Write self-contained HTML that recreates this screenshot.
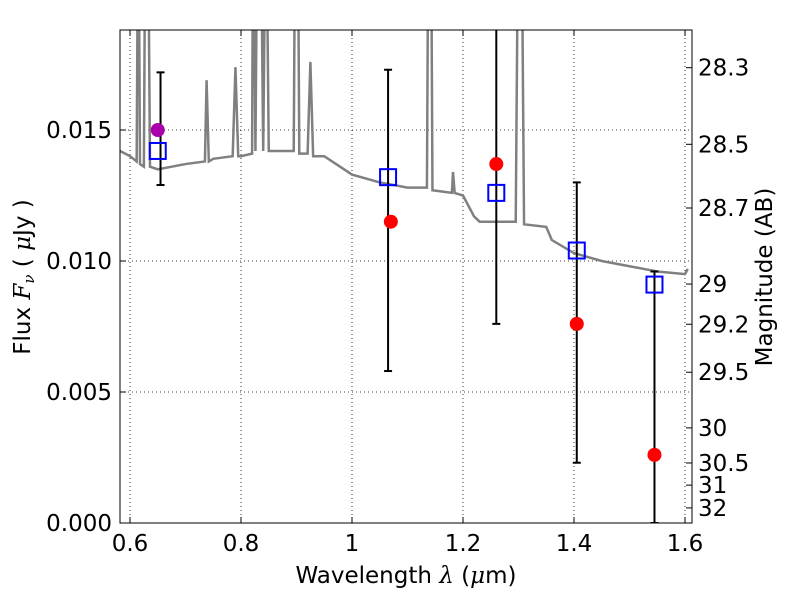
<!DOCTYPE html>
<html><head><meta charset="utf-8"><style>
body{margin:0;background:#fff}
svg{font-family:"DejaVu Sans","Liberation Sans",sans-serif}
</style></head><body>
<svg id="chart" width="800" height="600"></svg>
<script>
const sedWave=[0.582,0.60,0.612,0.615,0.618,0.625,0.628,0.632,0.636,0.65,0.70,0.735,0.738,0.742,0.75,0.785,0.79,0.795,0.80,0.82,0.822,0.826,0.83,0.835,0.84,0.845,0.85,0.895,0.898,0.902,0.905,0.92,0.925,0.93,0.95,1.0,1.05,1.10,1.135,1.138,1.142,1.145,1.18,1.182,1.185,1.2,1.22,1.23,1.28,1.295,1.30,1.305,1.31,1.35,1.36,1.40,1.45,1.50,1.55,1.60,1.605];
const sedFlux=[0.0142,0.0140,0.0138,0.025,0.0137,0.0136,0.025,0.025,0.0136,0.0135,0.0137,0.0138,0.0169,0.0138,0.0139,0.0140,0.0174,0.0140,0.0140,0.0141,0.025,0.0142,0.025,0.025,0.0142,0.025,0.0142,0.0142,0.025,0.025,0.0141,0.0141,0.0176,0.0140,0.0140,0.0133,0.0130,0.0128,0.0128,0.025,0.025,0.0127,0.0126,0.0134,0.0126,0.0125,0.0117,0.0115,0.0115,0.0115,0.025,0.025,0.0114,0.0113,0.0108,0.0103,0.0100,0.0098,0.0096,0.0095,0.0097];
const obsWave=[1.07,1.26,1.405,1.545];
const obsFlux=[0.0115,0.0137,0.0076,0.0026];
const purpleWave=[0.65];const purpleFlux=[0.0150];
const errWave=[0.655,1.065,1.26,1.405,1.545];
const errLow=[0.0129,0.0058,0.0076,0.0023,0.0];
const errHigh=[0.0172,0.0173,0.025,0.0130,0.0096];
const modWave=[0.65,1.065,1.26,1.405,1.545];
const modFlux=[0.0142,0.0132,0.0126,0.0104,0.0091];
const xTicks=[0.6,0.8,1.0,1.2,1.4,1.6];
const xLabels=["0.6","0.8","1","1.2","1.4","1.6"];
const yTicks=[0,0.005,0.010,0.015];
const yLabels=["0.000","0.005","0.010","0.015"];
const magTicks=[28.3,28.5,28.7,29,29.2,29.5,30,30.5,31,32];
const magLabels=["28.3","28.5","28.7","29","29.2","29.5","30","30.5","31","32"];

const L=120,R=692,T=30,B=523;
const xs=w=>130+(w-0.6)*555;
const ys=f=>523-f*26200;
const NS="http://www.w3.org/2000/svg";
const svg=document.getElementById('chart');
function mk(tag,attrs,parent){const e=document.createElementNS(NS,tag);for(const k in attrs)e.setAttribute(k,attrs[k]);(parent||svg).appendChild(e);return e;}
const defs=mk('defs',{});const cp=mk('clipPath',{id:'clip'},defs);mk('rect',{x:L,y:T,width:R-L,height:B-T},cp);
const g=mk('g',{'clip-path':'url(#clip)'});
xTicks.forEach(t=>{const l=mk('line',{x1:xs(t),x2:xs(t),y1:T,y2:B,stroke:'#000','stroke-dasharray':'1,3','stroke-width':0.8},g);
});
yTicks.forEach(t=>{const l=mk('line',{x1:L,x2:R,y1:ys(t),y2:ys(t),stroke:'#000','stroke-dasharray':'1,3','stroke-width':0.8},g);
});
const p=mk('polyline',{points:sedWave.map((w,i)=>xs(w)+','+ys(sedFlux[i])).join(' '),fill:'none',stroke:'#808080','stroke-width':2.5},g);

errWave.forEach((w,i)=>{const x=xs(w),y1=ys(errLow[i]),y2=ys(errHigh[i]);
const e=mk('g',{},g);
mk('line',{x1:x,x2:x,y1:y1,y2:y2,stroke:'#000','stroke-width':2},e);
mk('line',{x1:x-4,x2:x+4,y1:y1,y2:y1,stroke:'#000','stroke-width':2},e);
mk('line',{x1:x-4,x2:x+4,y1:y2,y2:y2,stroke:'#000','stroke-width':2},e);});
obsWave.forEach((w,i)=>{const c=mk('circle',{cx:xs(w),cy:ys(obsFlux[i]),r:7,fill:'#f00'},g);
});
purpleWave.forEach((w,i)=>{const c=mk('circle',{cx:xs(w),cy:ys(purpleFlux[i]),r:7,fill:'#a0a'},g);
});
modWave.forEach((w,i)=>{const r=mk('rect',{x:xs(w)-8,y:ys(modFlux[i])-8,width:16,height:16,fill:'none',stroke:'#00f','stroke-width':2},g);
});
const fr=mk('rect',{x:L,y:T,width:R-L,height:B-T,fill:'none',stroke:'#000','stroke-width':1});

xTicks.forEach((t,i)=>{const x=xs(t);mk('line',{x1:x,x2:x,y1:B,y2:B-6,stroke:'#000'});mk('line',{x1:x,x2:x,y1:T,y2:T+6,stroke:'#000'});
const tx=mk('text',{x:x,y:B+28,'font-size':23,'text-anchor':'middle'});tx.textContent=xLabels[i];
});
yTicks.forEach((t,i)=>{const y=ys(t);mk('line',{x1:L,x2:L+6,y1:y,y2:y,stroke:'#000'});
const tx=mk('text',{x:L-8,y:y+8,'font-size':23,'text-anchor':'end'});tx.textContent=yLabels[i];
});
magTicks.forEach((m,i)=>{const f=Math.pow(10,(23.9-m)/2.5);const y=ys(f);mk('line',{x1:R,x2:R-6,y1:y,y2:y,stroke:'#000'});
const tx=mk('text',{x:R+6,y:y+8,'font-size':23});tx.textContent=magLabels[i];
});
</script>
<svg style="position:absolute;left:0;top:0" width="800" height="600">
<text x="406" y="583" font-size="23" text-anchor="middle">Wavelength  <tspan font-style="italic" font-family="DejaVu Serif,serif">λ</tspan> (<tspan font-style="italic" font-family="DejaVu Serif,serif">μ</tspan>m)</text>
<text transform="translate(30,277) rotate(-90)" font-size="23" text-anchor="middle">Flux  <tspan font-style="italic" font-family="DejaVu Serif,serif">F</tspan><tspan font-style="italic" font-size="15" dy="4" font-family="DejaVu Serif,serif">ν</tspan><tspan dy="-4">  (  </tspan><tspan font-style="italic" font-family="DejaVu Serif,serif">μ</tspan>Jy )</text>
<text transform="translate(772,277) rotate(-90)" font-size="23" text-anchor="middle">Magnitude (AB)</text>
</svg>
</body></html>
